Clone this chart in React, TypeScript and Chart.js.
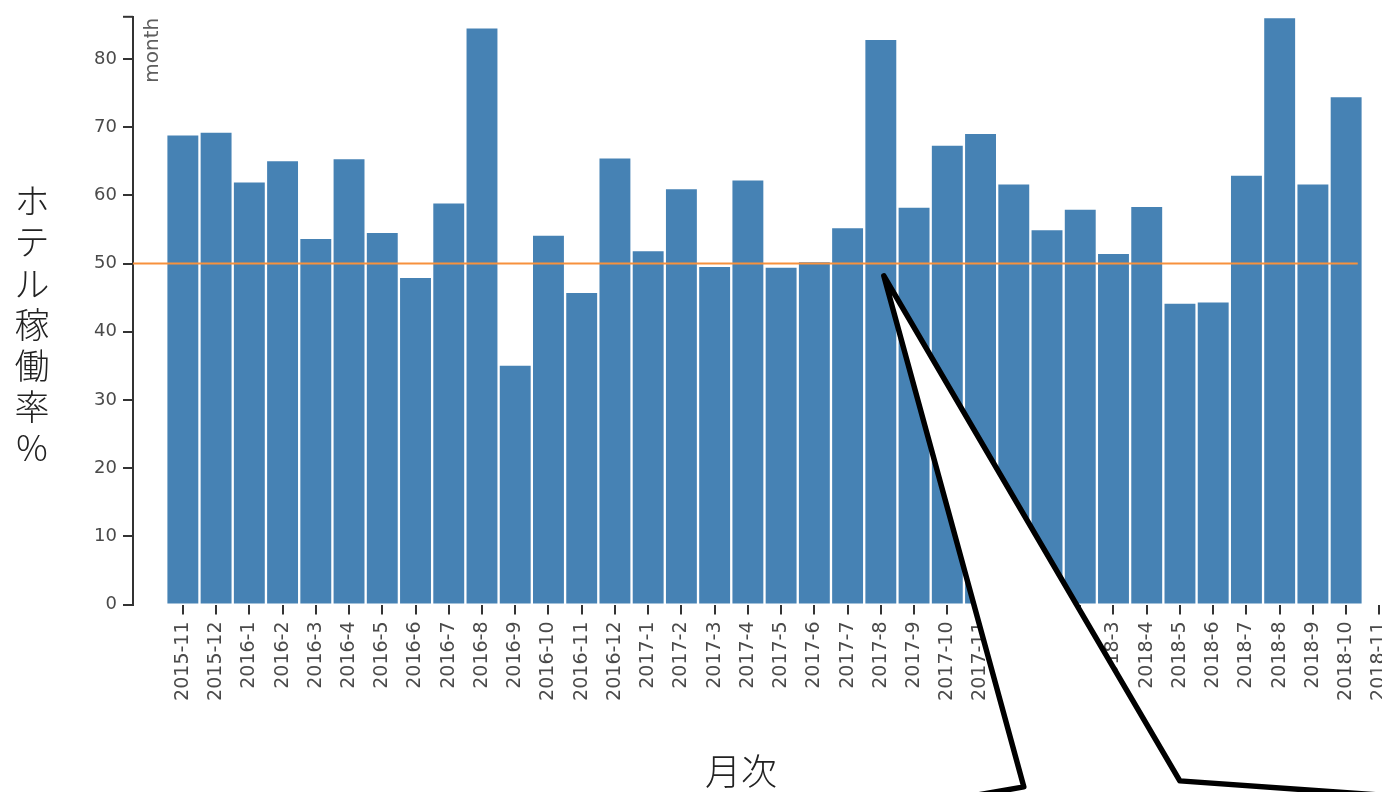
import React, { useEffect, useRef } from 'react';
import { Chart, registerables } from 'chart.js';

Chart.register(...registerables);

// ---- data ----
const MONTHS = [
  '2015-11', '2015-12',
  '2016-1', '2016-2', '2016-3', '2016-4', '2016-5', '2016-6', '2016-7', '2016-8', '2016-9', '2016-10', '2016-11', '2016-12',
  '2017-1', '2017-2', '2017-3', '2017-4', '2017-5', '2017-6', '2017-7', '2017-8', '2017-9', '2017-10', '2017-11', '2017-12',
  '2018-1', '2018-2', '2018-3', '2018-4', '2018-5', '2018-6', '2018-7', '2018-8', '2018-9', '2018-10',
];
const OCCUPANCY = [
  68.8, 69.2,
  61.9, 65.0, 53.6, 65.3, 54.5, 47.9, 58.8, 84.5, 35.0, 54.1, 45.7, 65.4,
  51.8, 60.9, 49.5, 62.2, 49.4, 50.2, 55.2, 82.8, 58.2, 67.3, 69.0, 61.6,
  54.9, 57.9, 51.4, 58.3, 44.1, 44.3, 62.9, 86.0, 61.6, 74.4,
];
const LEAD_MONTH = '2015-10'; // empty band before the first bar (no label)
const NEXT_MONTH = '2018-11'; // trailing tick after the last bar
const Y_TICKS = [0, 10, 20, 30, 40, 50, 60, 70, 80];
const Y_MAX = 86.2;
const THRESHOLD = 50;
const CALLOUT_MONTH = '2017-8';
const CALLOUT_VALUE = 48.2;
const Y_TITLE = 'ホテル稼働率 %';
const X_TITLE = '月次';
const CORNER_LABEL = 'month';

const AXIS_LABELS = [LEAD_MONTH, ...MONTHS, NEXT_MONTH];
const BAR_DATA = [null, ...OCCUPANCY, null];

const TICK_FONT = '"DejaVu Sans", Verdana, sans-serif';
const CJK_FONT = '"Noto Sans CJK JP", "Noto Sans", sans-serif';

const decorPlugin = {
  id: 'decor',
  afterDraw(chart: any) {
    const { ctx, chartArea, scales } = chart;
    const x = scales.x;
    const y = scales.y;
    ctx.save();

    // threshold line
    const lastIdx = AXIS_LABELS.indexOf(MONTHS[MONTHS.length - 1]);
    const yT = y.getPixelForValue(THRESHOLD);
    ctx.strokeStyle = '#f7913d';
    ctx.lineWidth = 2;
    ctx.beginPath();
    ctx.moveTo(chartArea.left, yT);
    ctx.lineTo(x.getPixelForValue(lastIdx + 0.35), yT);
    ctx.stroke();

    // top outer tick of the y domain
    ctx.strokeStyle = '#333';
    ctx.lineWidth = 2;
    ctx.beginPath();
    ctx.moveTo(chartArea.left - 10, chartArea.top);
    ctx.lineTo(chartArea.left, chartArea.top);
    ctx.stroke();

    // callout bubble tail
    const tx = x.getPixelForValue(AXIS_LABELS.indexOf(CALLOUT_MONTH)) + 3;
    const ty = y.getPixelForValue(CALLOUT_VALUE);
    ctx.beginPath();
    ctx.moveTo(tx + 60, ty + 525);
    ctx.lineTo(tx + 140, ty + 511);
    ctx.lineTo(tx, ty);
    ctx.lineTo(tx + 296, ty + 505);
    ctx.lineTo(tx + 536, ty + 522);
    ctx.lineTo(tx + 536, ty + 640);
    ctx.lineTo(tx + 60, ty + 640);
    ctx.closePath();
    ctx.fillStyle = '#ffffff';
    ctx.fill();
    ctx.strokeStyle = '#000000';
    ctx.lineWidth = 5.5;
    ctx.lineJoin = 'round';
    ctx.stroke();

    // corner label "month"
    ctx.save();
    ctx.translate(chartArea.left + 20, chartArea.top + 1);
    ctx.rotate(-Math.PI / 2);
    ctx.font = `20px ${TICK_FONT}`;
    ctx.fillStyle = '#5e5e5e';
    ctx.textAlign = 'end';
    ctx.textBaseline = 'middle';
    ctx.fillText(CORNER_LABEL, 0, 0);
    ctx.restore();

    // y title, stacked upright characters
    ctx.font = `300 35px ${CJK_FONT}`;
    ctx.fillStyle = '#222';
    ctx.textAlign = 'center';
    ctx.textBaseline = 'middle';
    const chars = Array.from(Y_TITLE).filter((c) => c.trim() !== '');
    chars.forEach((c, i) => {
      ctx.fillText(c, 32, 201 + i * 41.2);
    });

    // x title
    ctx.font = `300 36px ${CJK_FONT}`;
    ctx.fillText(X_TITLE, 741, 771);

    ctx.restore();
  },
};

export default function App() {
  const ref = useRef<HTMLCanvasElement>(null);

  useEffect(() => {
    document.body.style.margin = '0';
    const canvas = ref.current!;
    const chart = new Chart(canvas, {
      type: 'bar',
      data: {
        labels: AXIS_LABELS,
        datasets: [
          {
            data: BAR_DATA as any,
            backgroundColor: '#4682b4',
            borderWidth: 0,
            barPercentage: 0.93,
            categoryPercentage: 1,
          },
        ],
      },
      options: {
        animation: false,
        responsive: false,
        events: [],
        layout: { padding: { left: 0, right: 24, top: 15, bottom: 0 } },
        plugins: { legend: { display: false }, tooltip: { enabled: false } },
        scales: {
          x: {
            type: 'category',
            offset: true,
            afterFit: (s: any) => {
              s.height = 792 - 604.5;
            },
            grid: {
              offset: false,
              drawOnChartArea: false,
              drawTicks: true,
              tickLength: 10,
              lineWidth: 2,
              color: (c: any) => (c.index === 0 ? 'rgba(0,0,0,0)' : '#333'),
            },
            border: { display: false },
            ticks: {
              autoSkip: false,
              minRotation: 90,
              maxRotation: 90,
              padding: 7,
              color: '#4a4a4a',
              font: { family: TICK_FONT, size: 19 },
              callback: function (this: any, v: any) {
                const l = this.getLabelForValue(v);
                return l === LEAD_MONTH ? '' : l;
              },
            },
          },
          y: {
            min: 0,
            max: Y_MAX,
            afterFit: (s: any) => {
              s.width = 133;
            },
            afterBuildTicks: (s: any) => {
              s.ticks = Y_TICKS.map((v) => ({ value: v }));
            },
            grid: {
              drawOnChartArea: false,
              drawTicks: true,
              tickLength: 10,
              lineWidth: 2,
              color: '#333',
            },
            border: { display: true, color: '#333', width: 2 },
            ticks: {
              padding: 6,
              color: '#4a4a4a',
              font: { family: TICK_FONT, size: 18 },
              callback: (v: any) => String(v),
            },
          },
        },
      },
      plugins: [decorPlugin],
    });
    return () => chart.destroy();
  }, []);

  return (
    <div
      style={{
        position: 'fixed',
        left: 0,
        top: 0,
        width: 1382,
        height: 792,
        overflow: 'hidden',
        background: '#fff',
      }}
    >
      <canvas ref={ref} width={1420} height={792} style={{ display: 'block' }} />
    </div>
  );
}
